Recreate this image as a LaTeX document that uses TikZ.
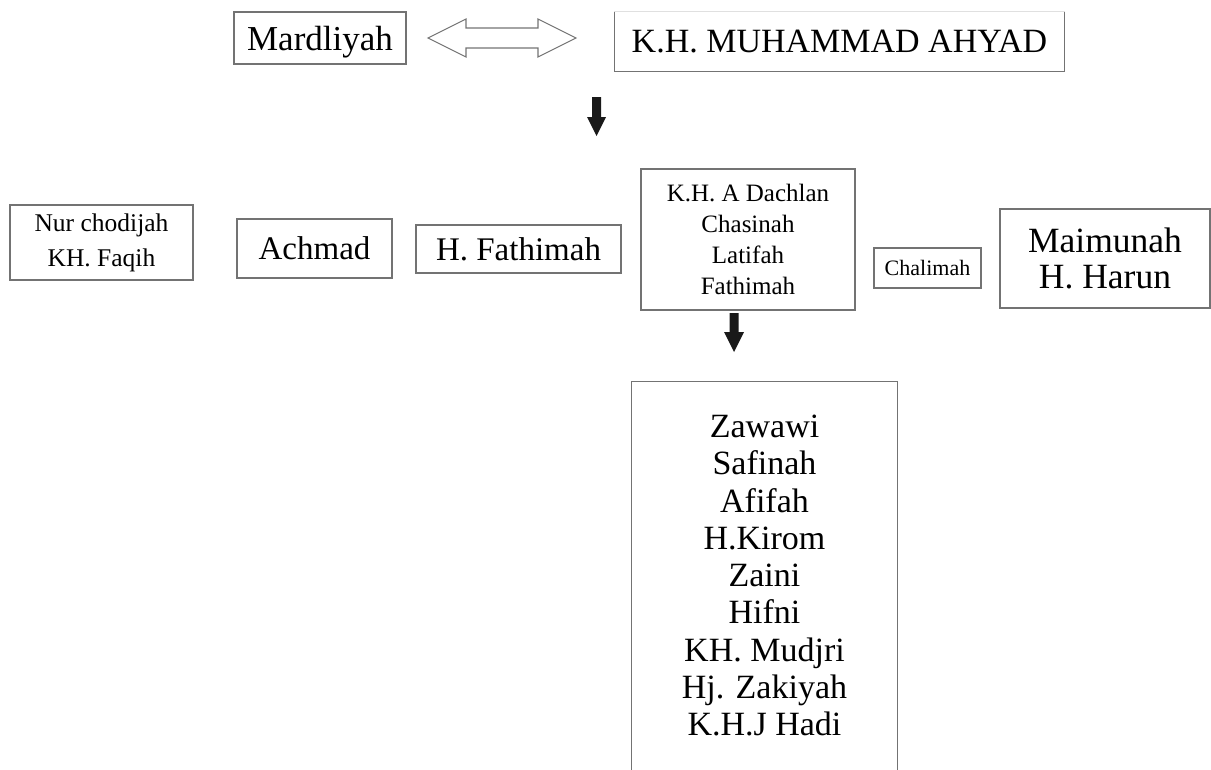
\documentclass[tikz,border=0pt]{standalone}
\usepackage{fontspec}
\setmainfont{Liberation Serif}
\usetikzlibrary{positioning,calc}
\newcommand{\fs}[2]{\fontsize{#1}{#2}\selectfont}

\begin{document}
\begin{tikzpicture}[x=1pt,y=-1pt,
  kotak/.style={draw=black!55,line width=1.3pt,inner sep=0pt,align=center},
  blok/.style={fill=black!90}]
\useasboundingbox (0,0) rectangle (1211,769);
% baris atas
\node[kotak,minimum width=172,minimum height=52,text depth=0pt,font=\fs{35}{40}] (mardliyah) at (320,38) {Mardliyah};
\node[kotak,draw=none,minimum width=449,minimum height=59,font=\fs{34}{40}] (ahyad) at (839.5,41.5) {K.H. MUHAMMAD AHYAD};
\draw[black!55,line width=1.3pt] (ahyad.north west) -- (ahyad.south west) -- (ahyad.south east) -- (ahyad.north east);
\draw[black!12,line width=1pt] (ahyad.north west) -- (ahyad.north east);
\draw[black!55,line width=1.1pt] (428,38) -- (466,19) -- (466,28) -- (538,28) -- (538,19) -- (576,38)
  -- (538,57) -- (538,48) -- (466,48) -- (466,57) -- cycle;
\fill[blok] (592,97) -- (601,97) -- (601,117) -- (606,117) -- (596.5,136) -- (587,117) -- (592,117) -- cycle;
% anak-anak
\node[kotak,minimum width=183,minimum height=75,font=\fs{25.5}{35}] (nur) at (101.5,242.5) {Nur chodijah\\KH. Faqih};
\node[kotak,minimum width=155,minimum height=59,font=\fs{33}{38}] (achmad) at (314.5,248.5) {Achmad};
\node[kotak,minimum width=205,minimum height=48,font=\fs{33}{38}] (fathimah) at (518.5,249) {H. Fathimah};
\node[kotak,minimum width=214,minimum height=141,font=\fs{25}{31}] (dachlan) at (748,239.5) {K.H. A Dachlan\\Chasinah\\Latifah\\Fathimah};
\node[kotak,minimum width=107,minimum height=40,font=\fs{22}{26}] (chalimah) at (927.5,268) {Chalimah};
\node[kotak,minimum width=210,minimum height=99,font=\fs{35.5}{36}] (maimunah) at (1105,258.5) {Maimunah\\H. Harun};
\fill[blok] (729.5,313) -- (738.5,313) -- (738.5,332) -- (744,332) -- (734,352) -- (724,332) -- (729.5,332) -- cycle;
% cucu
\node[kotak,draw=none,minimum width=265,minimum height=387,font=\fs{34}{37.25}] (cucu) at (764.5,575.5)
  {Zawawi\\Safinah\\Afifah\\H.Kirom\\Zaini\\Hifni\\KH. Mudjri\\Hj. Zakiyah\\K.H.J Hadi};
\draw[black!55,line width=1.3pt] (cucu.south west) -- (cucu.north west) -- (cucu.north east) -- (cucu.south east);
\end{tikzpicture}
\end{document}
